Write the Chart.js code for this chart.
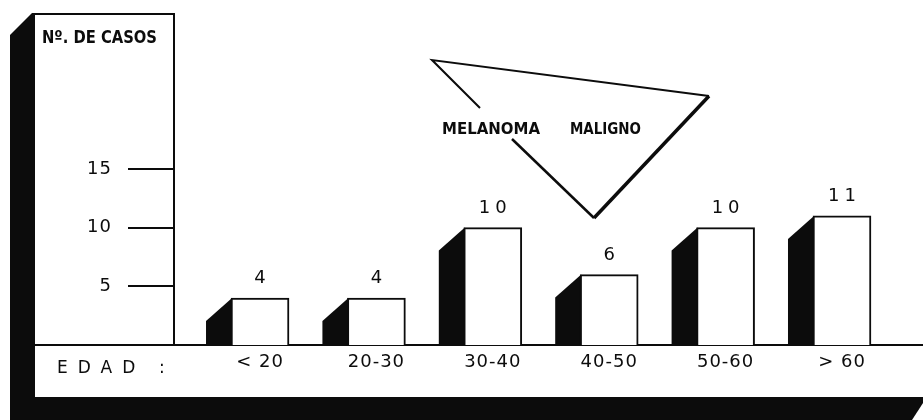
<!DOCTYPE html>
<html><head><meta charset="utf-8">
<script src="https://cdn.jsdelivr.net/npm/chart.js@4/dist/chart.umd.min.js"></script>
<style>html,body{margin:0;padding:0;background:#fff;}canvas{display:block;}</style>
</head><body>
<canvas id="c" width="923" height="420"></canvas>
<script>
const categories = ['< 20', '20-30', '30-40', '40-50', '50-60', '> 60'];
const casos = [4, 4, 10, 6, 10, 11];
const yTickValues = [5, 10, 15];
const yAxisTitle = 'Nº. DE CASOS';
const xAxisTitle = 'EDAD';
const boxTitle = ['MELANOMA', 'MALIGNO'];

const INK = '#0c0c0c';
const FONT = '"DejaVu Sans", sans-serif';
const FONT_C = '"DejaVu Sans Condensed", "DejaVu Sans", sans-serif';

function fitText(ctx, text, x, y, w, font) {
  ctx.save();
  ctx.font = font;
  ctx.letterSpacing = '0px';
  ctx.textAlign = 'left';
  ctx.textBaseline = 'alphabetic';
  const m = ctx.measureText(text).width;
  ctx.translate(x, y);
  ctx.scale(w / m, 1);
  ctx.fillText(text, 0, 0);
  ctx.restore();
}

const framePlugin = {
  id: 'frame',
  beforeDraw(chart) {
    const ctx = chart.ctx, a = chart.chartArea, W = chart.width, H = chart.height;
    ctx.save();
    ctx.fillStyle = '#fff';
    ctx.fillRect(0, 0, W, H);
    ctx.fillStyle = INK;
    // left 3D strip
    ctx.beginPath();
    ctx.moveTo(10, 35); ctx.lineTo(32, a.top - 1); ctx.lineTo(35, a.top - 1);
    ctx.lineTo(35, H); ctx.lineTo(10, H); ctx.closePath(); ctx.fill();
    // bottom band
    ctx.beginPath();
    ctx.moveTo(10, a.bottom + 52); ctx.lineTo(W, a.bottom + 52); ctx.lineTo(W, a.bottom + 58);
    ctx.lineTo(912, H); ctx.lineTo(10, H); ctx.closePath(); ctx.fill();
    ctx.strokeStyle = INK; ctx.lineWidth = 2;
    // top border of y box
    ctx.beginPath(); ctx.moveTo(33, a.top); ctx.lineTo(a.left, a.top); ctx.stroke();
    // baseline extension under y box
    ctx.beginPath(); ctx.moveTo(35, a.bottom); ctx.lineTo(a.left, a.bottom); ctx.stroke();
    // y title
    fitText(ctx, yAxisTitle, 42, 43, 115, 'bold 17px ' + FONT_C);
    // x title in band
    ctx.font = '17px ' + FONT;
    ctx.letterSpacing = '10px';
    ctx.textAlign = 'left';
    ctx.textBaseline = 'alphabetic';
    ctx.fillText(xAxisTitle, 57, a.bottom + 28);
    ctx.letterSpacing = '0px';
    ctx.fillText(':', 159, a.bottom + 28);
    // triangle annotation
    ctx.lineJoin = 'miter';
    ctx.beginPath(); ctx.moveTo(480, 108); ctx.lineTo(432, 60); ctx.lineTo(709, 96); ctx.stroke();
    ctx.lineWidth = 3.5;
    ctx.beginPath(); ctx.moveTo(709, 96); ctx.lineTo(594, 218); ctx.stroke();
    ctx.lineWidth = 2.5;
    ctx.beginPath(); ctx.moveTo(594, 218); ctx.lineTo(512, 139); ctx.stroke();
    fitText(ctx, boxTitle[0], 442, 134, 98, 'bold 16px ' + FONT_C);
    fitText(ctx, boxTitle[1], 570, 134, 71, 'bold 16px ' + FONT_C);
    ctx.restore();
    ctx.letterSpacing = '1px';
  },
  beforeDatasetsDraw(chart) {
    const ctx = chart.ctx;
    const meta = chart.getDatasetMeta(0);
    ctx.save();
    ctx.fillStyle = INK;
    meta.data.forEach(el => {
      const p = el.getProps(['x', 'y', 'base', 'width'], true);
      const left = p.x - p.width / 2;
      ctx.beginPath();
      ctx.moveTo(left + 1, p.base);
      ctx.lineTo(left + 1, p.y);
      ctx.lineTo(left - 25, p.y + 23);
      ctx.lineTo(left - 25, p.base);
      ctx.closePath();
      ctx.fill();
    });
    ctx.restore();
  },
  afterDatasetsDraw(chart) {
    const ctx = chart.ctx;
    const meta = chart.getDatasetMeta(0);
    ctx.save();
    ctx.fillStyle = INK;
    ctx.font = '18px ' + FONT;
    ctx.letterSpacing = '5px';
    ctx.textAlign = 'center';
    ctx.textBaseline = 'alphabetic';
    meta.data.forEach((el, i) => {
      const p = el.getProps(['x', 'y'], true);
      ctx.fillText(String(casos[i]), p.x + 2.5, p.y - 15);
    });
    ctx.restore();
  }
};

new Chart(document.getElementById('c'), {
  type: 'bar',
  data: {
    datasets: [{
      data: casos.map((v, i) => ({ x: i, y: v })),
      backgroundColor: '#fff',
      borderColor: INK,
      borderWidth: 2,
      borderSkipped: 'bottom',
      barThickness: 58
    }]
  },
  options: {
    responsive: false,
    devicePixelRatio: 1,
    animation: false,
    layout: { padding: { top: 14, left: 0, right: 0, bottom: 0 } },
    plugins: { legend: { display: false }, tooltip: { enabled: false } },
    scales: {
      x: {
        type: 'linear',
        offset: false,
        min: -0.739,
        max: 5.696,
        afterBuildTicks(scale) { scale.ticks = categories.map((c, i) => ({ value: i })); },
        afterFit(scale) { scale.height = 75; scale.paddingLeft = 0; scale.paddingRight = 0; },
        grid: { drawOnChartArea: false, drawTicks: false },
        border: { display: true, color: INK, width: 2 },
        ticks: {
          autoSkip: false, maxRotation: 0, padding: 7, color: INK,
          font: { family: FONT, size: 18 },
          callback: (v) => categories[v] ?? ''
        }
      },
      y: {
        min: 0,
        max: 28.2,
        afterBuildTicks(scale) { scale.ticks = yTickValues.map(v => ({ value: v })); },
        afterFit(scale) { scale.width = 174; scale.paddingTop = 0; scale.paddingBottom = 0; },
        grid: { drawOnChartArea: false, drawTicks: true, tickLength: 46, color: INK, lineWidth: 2 },
        border: { display: true, color: INK, width: 2 },
        ticks: { padding: 16, color: INK, font: { family: FONT, size: 18 } }
      }
    }
  },
  plugins: [framePlugin]
});
</script>
</body></html>
